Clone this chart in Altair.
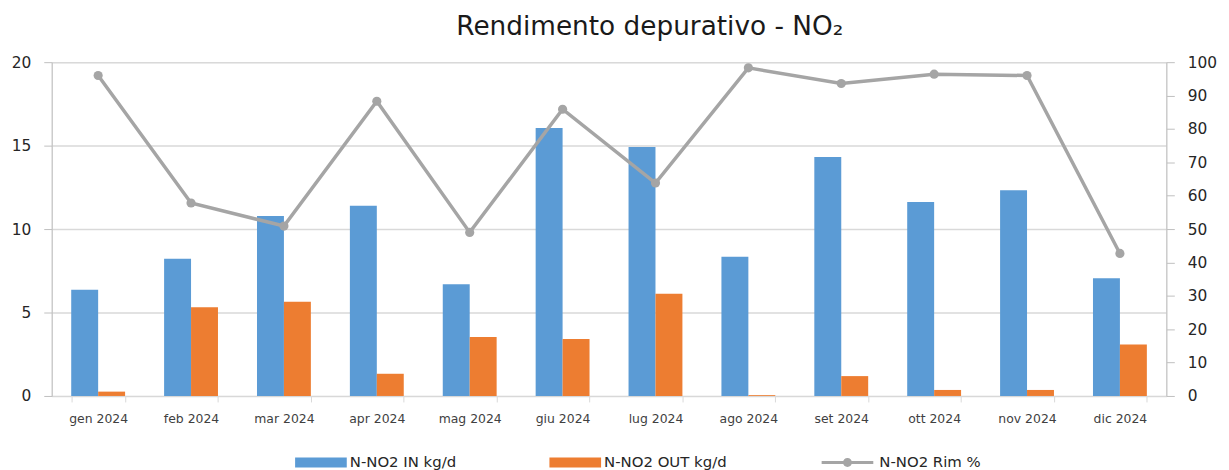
import altair as alt
import pandas as pd

# ---- data ----
mesi = ["gen 2024", "feb 2024", "mar 2024", "apr 2024", "mag 2024", "giu 2024",
        "lug 2024", "ago 2024", "set 2024", "ott 2024", "nov 2024", "dic 2024"]
in_kgd = [6.36, 8.22, 10.79, 11.39, 6.69, 16.06, 14.91, 8.34, 14.32, 11.62, 12.32, 7.05]
out_kgd = [0.26, 5.31, 5.64, 1.33, 3.54, 3.42, 6.12, 0.05, 1.19, 0.36, 0.36, 3.09]
rim_pct = [96.0, 57.8, 50.9, 88.3, 49.0, 85.9, 63.8, 98.3, 93.6, 96.4, 96.0, 42.7]

serie_in = "N-NO2 IN kg/d"
serie_out = "N-NO2 OUT kg/d"
serie_rim = "N-NO2 Rim %"
left_ticks = [0, 5, 10, 15, 20]
right_ticks = [0, 10, 20, 30, 40, 50, 60, 70, 80, 90, 100]

bars_df = pd.DataFrame({
    "mese": mesi * 2,
    "serie": [serie_in] * len(mesi) + [serie_out] * len(mesi),
    "valore": in_kgd + out_kgd,
})
line_df = pd.DataFrame({"mese": mesi, "rim": rim_pct, "serie": [serie_rim] * len(mesi)})

FONT = "DejaVu Sans"

x_enc = alt.X(
    "mese:N", sort=mesi,
    scale=alt.Scale(paddingInner=0.42, paddingOuter=0.21),
    axis=alt.Axis(title=None, labelAngle=0, tickBand="extent", grid=False,
                  domainColor="#D9D9D9", tickColor="#D9D9D9", tickSize=6,
                  labelPadding=11, labelFont=FONT, labelFontSize=12.5,
                  labelColor="#404040"),
)

bar_path = "M-1,-0.1923H1V0.1923H-1Z"
line_path = ("M-1,-0.0615H1V0.0615H-1Z "
             "M0.173,0A0.173,0.173 0 1,1 -0.173,0A0.173,0.173 0 1,1 0.173,0Z")

bars = alt.Chart(bars_df).mark_bar().encode(
    x=x_enc,
    xOffset=alt.XOffset("serie:N", sort=[serie_in, serie_out],
                        scale=alt.Scale(paddingInner=0, paddingOuter=0)),
    y=alt.Y("valore:Q", scale=alt.Scale(domain=[0, 20]),
            axis=alt.Axis(title=None, orient="left", values=left_ticks, grid=True,
                          gridColor="#D9D9D9", gridWidth=1.5,
                          domainColor="#BFBFBF", tickColor="#BFBFBF", tickSize=8,
                          labelPadding=13, labelFont=FONT, labelFontSize=15.5,
                          labelColor="#262626")),
    color=alt.Color("serie:N", sort=[serie_in, serie_out],
                    scale=alt.Scale(domain=[serie_in, serie_out],
                                    range=["#5B9BD5", "#ED7D31"]),
                    legend=alt.Legend(title=None, orient="none", legendX=245, legendY=377,
                                      direction="horizontal", symbolType=bar_path,
                                      symbolSize=2704, symbolStrokeWidth=0,
                                      symbolOpacity=1, labelFont=FONT, labelFontSize=15,
                                      labelColor="#262626", labelOffset=3,
                                      columnPadding=93, padding=0)),
)

y_right = alt.Y("rim:Q", scale=alt.Scale(domain=[0, 100]),
                axis=alt.Axis(title=None, orient="right", values=right_ticks, grid=False,
                              domainColor="#BFBFBF", tickColor="#BFBFBF", tickSize=8,
                              labelPadding=13, labelFont=FONT, labelFontSize=15.5,
                              labelColor="#262626"))

line = alt.Chart(line_df).mark_line(color="#A5A5A5", strokeWidth=3.5).encode(
    x=x_enc, y=y_right)

points = alt.Chart(line_df).mark_circle(size=85, opacity=1).encode(
    x=x_enc, y=y_right,
    color=alt.Color("serie:N",
                    scale=alt.Scale(domain=[serie_rim], range=["#A5A5A5"]),
                    legend=alt.Legend(title=None, orient="none", legendX=775, legendY=377,
                                      symbolType=line_path, symbolSize=2704,
                                      symbolStrokeWidth=0, symbolOpacity=1,
                                      symbolFillColor="#A5A5A5",
                                      labelFont=FONT, labelFontSize=15,
                                      labelColor="#262626", labelOffset=6, padding=0)),
)

chart = alt.layer(bars, alt.layer(line, points)).resolve_scale(
    y="independent", color="independent"
).properties(
    width=1122, height=336,
    title=alt.TitleParams("Rendimento depurativo - NO₂", font=FONT, fontSize=26.5,
                          fontWeight="normal", color="#1a1a1a", anchor="middle",
                          dx=41, offset=-6, baseline="alphabetic"),
    autosize=alt.AutoSizeParams(type="none"),
    padding={"left": 44, "top": 53, "right": 55, "bottom": 73},
).configure_view(stroke=None).configure(background="white")

chart.save("out.html", embed_options={"renderer": "svg", "actions": False})
